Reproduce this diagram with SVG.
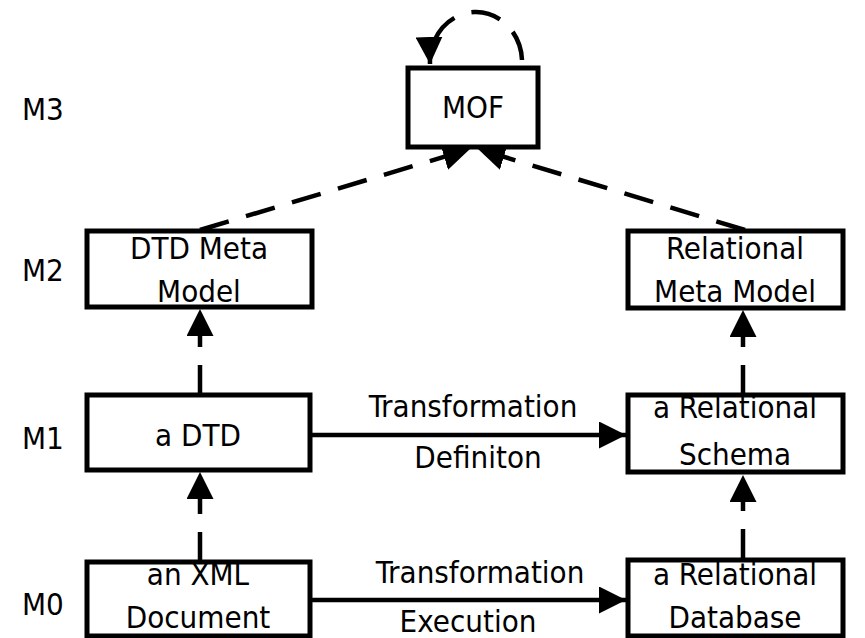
<svg xmlns="http://www.w3.org/2000/svg" width="865" height="638" viewBox="0 0 865 638">
  <style>
    .box { fill: #ffffff; stroke: #000000; stroke-width: 5; }
    .lbl { font-family: "DejaVu Sans Condensed", "DejaVu Sans", Verdana, sans-serif; font-stretch: condensed; font-size: 31px; fill: #000000; }
    .mid { text-anchor: middle; }
    .solid { fill: none; stroke: #000000; stroke-width: 4.5; }
    .dash { fill: none; stroke: #000000; stroke-width: 4.5; stroke-dasharray: 30 18; }
  </style>
  <defs>
    <marker id="head" viewBox="0 0 10 10" refX="10" refY="5" markerWidth="6" markerHeight="6" markerUnits="strokeWidth" orient="auto">
      <path d="M0 0 L10 5 L0 10 Z" fill="#000000"/>
    </marker>
  </defs>

  <!-- level labels -->
  <g id="levels">
    <text class="lbl" x="22" y="120">M3</text>
    <text class="lbl" x="22" y="281">M2</text>
    <text class="lbl" x="22" y="449">M1</text>
    <text class="lbl" x="22" y="615">M0</text>
  </g>

  <!-- connectors -->
  <g id="connectors">
    <!-- MOF self reference -->
    <path class="dash" d="M522 60 A46 50 0 0 0 430 64" stroke-dasharray="30 18" marker-end="url(#head)"/>
    <!-- meta models conform to MOF -->
    <path class="dash" d="M200 230 L470 149" marker-end="url(#head)"/>
    <path class="dash" d="M745 230 L478 149" marker-end="url(#head)"/>
    <!-- models conform to meta models -->
    <path class="dash" d="M200 395 L200 309" stroke-dasharray="32 16" marker-end="url(#head)"/>
    <path class="dash" d="M743 395 L743 310" stroke-dasharray="32 16" marker-end="url(#head)"/>
    <path class="dash" d="M200 562 L200 472" stroke-dasharray="32 16" marker-end="url(#head)"/>
    <path class="dash" d="M743 559 L743 475" stroke-dasharray="32 16" marker-end="url(#head)"/>
    <!-- transformations -->
    <path class="solid" d="M310 435 L626 435" marker-end="url(#head)"/>
    <path class="solid" d="M310 600 L626 600" marker-end="url(#head)"/>
    <text class="lbl mid" x="473" y="417">Transformation</text>
    <text class="lbl mid" x="478" y="468">Definiton</text>
    <text class="lbl mid" x="480" y="583">Transformation</text>
    <text class="lbl mid" x="468" y="632">Execution</text>
  </g>

  <g id="mof">
    <rect class="box" x="408" y="68" width="130" height="79"/>
    <text class="lbl mid" x="473" y="118">MOF</text>
  </g>

  <g id="dtd-meta-model">
    <rect class="box" x="87" y="231" width="225" height="76"/>
    <text class="lbl mid" x="199" y="259">DTD Meta</text>
    <text class="lbl mid" x="199" y="302">Model</text>
  </g>

  <g id="relational-meta-model">
    <rect class="box" x="628" y="231" width="215" height="77"/>
    <text class="lbl mid" x="735" y="259">Relational</text>
    <text class="lbl mid" x="735" y="302">Meta Model</text>
  </g>

  <g id="a-dtd">
    <rect class="box" x="87" y="395" width="223" height="75"/>
    <text class="lbl mid" x="198" y="446">a DTD</text>
  </g>

  <g id="a-relational-schema">
    <rect class="box" x="628" y="395" width="215" height="77"/>
    <text class="lbl mid" x="735" y="418">a Relational</text>
    <text class="lbl mid" x="735" y="465">Schema</text>
  </g>

  <g id="an-xml-document">
    <rect class="box" x="87" y="562" width="223" height="74"/>
    <text class="lbl mid" x="198" y="585">an XML</text>
    <text class="lbl mid" x="198" y="628">Document</text>
  </g>

  <g id="a-relational-database">
    <rect class="box" x="628" y="560" width="215" height="76"/>
    <text class="lbl mid" x="735" y="585">a Relational</text>
    <text class="lbl mid" x="735" y="628">Database</text>
  </g>
</svg>
